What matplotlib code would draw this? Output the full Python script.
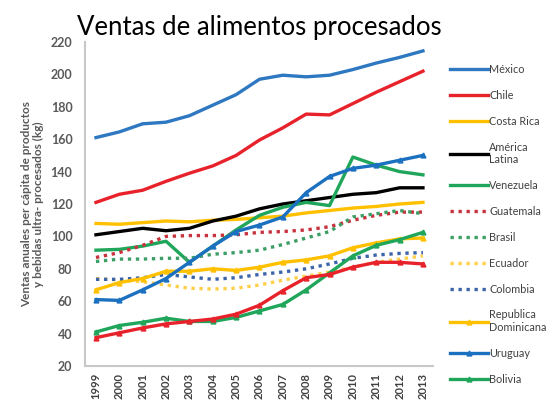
import matplotlib
matplotlib.use("Agg")
import matplotlib.pyplot as plt

years = [str(y) for y in range(1999, 2014)]

mexico = [161, 164.5, 169.5, 170.5, 174.5, 181, 187.5, 197, 199.5, 198.5, 199.5, 203, 207, 210.5, 214.5]
chile = [121, 126, 128.5, 134, 139, 143.5, 150, 159.5, 167, 175.5, 175, 182, 189, 195.5, 202]
costa_rica = [108, 107.5, 108.5, 109.5, 109, 110, 110.5, 111.5, 112.5, 114.5, 116, 117.5, 118.5, 120, 121]
america_latina = [101, 103, 105, 103.5, 105, 109.5, 112.5, 117, 120, 122, 124, 126, 127, 130, 130]
venezuela = [91.5, 92, 94, 97, 84, 94, 104, 113, 118, 121, 119, 149, 144, 140, 138]
guatemala = [87, 90, 94.5, 100, 100.5, 100.5, 101, 102.5, 103, 104, 106, 110, 113, 115, 115]
brasil = [84.5, 86, 86, 86.5, 86.5, 89, 90, 91.5, 95, 99, 103, 112, 114, 116, 114]
ecuador = [74, 73, 72, 70, 68, 67.5, 68, 70, 73, 75.5, 78, 81, 84, 86, 88]
colombia = [73.5, 73.5, 74.5, 76.5, 75, 73.5, 74.5, 76.5, 78, 80, 83, 86.5, 88.5, 89.5, 90]
rep_dominicana = [67, 71.5, 74, 78.5, 78.5, 80, 79, 81, 84, 85.5, 88, 93, 96, 98.5, 99]
uruguay = [61, 60.5, 67, 74, 84, 94, 103, 107, 112, 127, 137, 142, 144, 147, 150]
bolivia = [41, 45, 47, 49.5, 47.5, 47.5, 50, 54, 58, 67, 77.5, 88, 94.5, 98, 102.5]
serie_sin_leyenda = [37.5, 40.5, 43.5, 46, 47.5, 49, 52, 57.5, 66.5, 74.5, 76.5, 81, 84, 84, 83]

y_ticks = [20, 40, 60, 80, 100, 120, 140, 160, 180, 200, 220]

FONT = "Lato"
plt.rcParams['font.family'] = [FONT, 'DejaVu Sans']

fig = plt.figure(figsize=(5.49, 4.03), dpi=100)
ax = fig.add_axes([85/549, 1-366/403, (433-85)/549, (366-42)/403])

x = list(range(len(years)))
dot = (0, (1, 1.4))
lw = 2.4

series = [
    (mexico, "México", "#2E78C2", "-", None),
    (chile, "Chile", "#E8222B", "-", None),
    (costa_rica, "Costa Rica", "#FFC000", "-", None),
    (america_latina, "América\nLatina", "#000000", "-", None),
    (venezuela, "Venezuela", "#1FA65A", "-", None),
    (guatemala, "Guatemala", "#C8323C", dot, None),
    (brasil, "Brasil", "#3C9E64", dot, None),
    (ecuador, "Ecuador", "#FFCF4A", dot, None),
    (colombia, "Colombia", "#3C64AA", dot, None),
    (rep_dominicana, "Republica\nDominicana", "#FFC000", "-", "^"),
    (uruguay, "Uruguay", "#1C70C0", "-", "^"),
    (bolivia, "Bolivia", "#1FA65A", "-", "^"),
]

handles = []
for vals, name, col, ls, mk in series:
    h, = ax.plot(x, vals, color=col, linestyle=ls, linewidth=lw,
                 marker=mk, markersize=3.5, label=name)
    handles.append(h)
ax.plot(x, serie_sin_leyenda, color="#E8222B", linewidth=lw, marker="^", markersize=3.5)

ax.set_xlim(-0.47, 14.43)
ax.set_ylim(20, 220)
ax.set_yticks(y_ticks)
ax.set_xticks(x)
ax.set_xticklabels(years, rotation=90, fontsize=8, fontweight='bold', color='#404040')
ax.tick_params(axis='y', labelsize=9, colors='#595959', length=0, pad=9)
ax.tick_params(axis='x', length=0, pad=5)
for t in ax.get_yticklabels():
    t.set_fontweight('bold')
for s in ['top', 'right']:
    ax.spines[s].set_visible(False)
for s in ['left', 'bottom']:
    ax.spines[s].set_color('#C8C8C8')
    ax.spines[s].set_linewidth(1.5)

ax.set_ylabel("Ventas anuales per cápita de productos\ny bebidas ultra- procesados (kg)",
              fontsize=8.5, fontweight='bold', color='#595959', labelpad=5, linespacing=1.1)

ax.set_title("Ventas de alimentos procesados", fontsize=18.5, color='#000000', pad=5)

fig.legend(handles=handles, loc='upper left', bbox_to_anchor=(450/549, 1-64/403),
           frameon=False, fontsize=7.8, handlelength=3.5, handletextpad=0.12,
           labelspacing=1.37, borderpad=0, borderaxespad=0, labelcolor='#404040')

fig.savefig("out.png", dpi=100)
